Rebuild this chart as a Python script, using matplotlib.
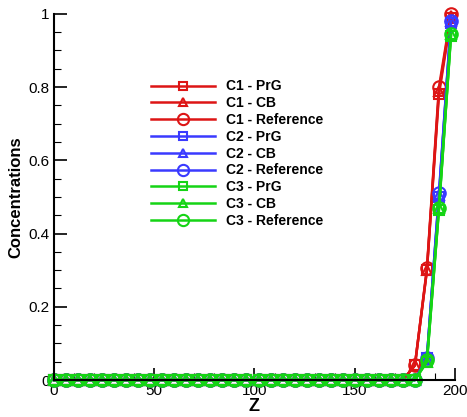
import matplotlib
matplotlib.use("Agg")
import matplotlib.pyplot as plt
from matplotlib.ticker import MultipleLocator

plt.rcParams['font.family'] = ['Liberation Sans', 'DejaVu Sans']

# data: concentrations along Z (one point every 6 units)
z = [0, 6, 12, 18, 24, 30, 36, 42, 48, 54, 60, 66, 72, 78, 84, 90, 96,
     102, 108, 114, 120, 126, 132, 138, 144, 150, 156, 162, 168, 174,
     180, 186, 192, 198]

zeros = [0, 0, 0, 0, 0, 0, 0, 0, 0, 0, 0, 0, 0, 0, 0, 0, 0, 0, 0, 0,
         0, 0, 0, 0, 0, 0, 0, 0, 0]

c1_prg = zeros + [0.0, 0.04, 0.30, 0.78, 0.99]
c1_cb = zeros + [0.0, 0.04, 0.30, 0.79, 0.995]
c1_ref = zeros + [0.0, 0.04, 0.305, 0.80, 1.0]
c2_prg = zeros + [0.0, 0.0, 0.06, 0.50, 0.975]
c2_cb = zeros + [0.0, 0.0, 0.06, 0.505, 0.98]
c2_ref = zeros + [0.0, 0.0, 0.06, 0.51, 0.98]
c3_prg = zeros + [0.0, 0.0, 0.05, 0.465, 0.94]
c3_cb = zeros + [0.0, 0.0, 0.05, 0.47, 0.945]
c3_ref = zeros + [0.0, 0.0, 0.055, 0.47, 0.945]

red = '#dd1515'
blue = '#3a3aff'
green = '#15d415'

series = [
    (c1_prg, red, 's', 'C1 - PrG'),
    (c1_cb, red, '^', 'C1 - CB'),
    (c1_ref, red, 'o', 'C1 - Reference'),
    (c2_prg, blue, 's', 'C2 - PrG'),
    (c2_cb, blue, '^', 'C2 - CB'),
    (c2_ref, blue, 'o', 'C2 - Reference'),
    (c3_prg, green, 's', 'C3 - PrG'),
    (c3_cb, green, '^', 'C3 - CB'),
    (c3_ref, green, 'o', 'C3 - Reference'),
]

fig = plt.figure(figsize=(4.67, 4.17), dpi=100)
ax = fig.add_axes([0.1156, 0.0887, 0.8587, 0.878])

for vals, col, mk, lab in series:
    ms = 9 if mk == 'o' else 7
    ax.plot(z, vals, color=col, lw=1.8, marker=mk, ms=ms, mfc='none',
            mec=col, mew=1.5, label=lab, clip_on=False)

ax.set_xlim(0, 200)
ax.set_ylim(0, 1)
ax.xaxis.set_major_locator(MultipleLocator(50))
ax.xaxis.set_minor_locator(MultipleLocator(10))
ax.yaxis.set_major_locator(MultipleLocator(0.2))
ax.yaxis.set_minor_locator(MultipleLocator(0.05))
ax.set_yticks([0, 0.2, 0.4, 0.6, 0.8, 1.0])
ax.set_yticklabels(['0', '0.2', '0.4', '0.6', '0.8', '1'])
ax.tick_params(which='major', direction='in', length=9, width=1.2, labelsize=11, pad=3)
ax.tick_params(which='minor', direction='in', length=5, width=0.8)
for s in ['top', 'right']:
    ax.spines[s].set_visible(False)
for s in ['left', 'bottom']:
    ax.spines[s].set_linewidth(1.5)

ax.set_xlabel('Z', fontsize=13, fontweight='bold', labelpad=0)
ax.set_ylabel('Concentrations', fontsize=12, fontweight='bold', labelpad=4)

ax.legend(loc='upper left', bbox_to_anchor=(0.21, 0.855), frameon=False,
          prop={'weight': 'bold', 'size': 10}, handlelength=4.6,
          labelspacing=0.2, handletextpad=0.8, markerscale=0.9)

fig.savefig('out.png', dpi=100)
